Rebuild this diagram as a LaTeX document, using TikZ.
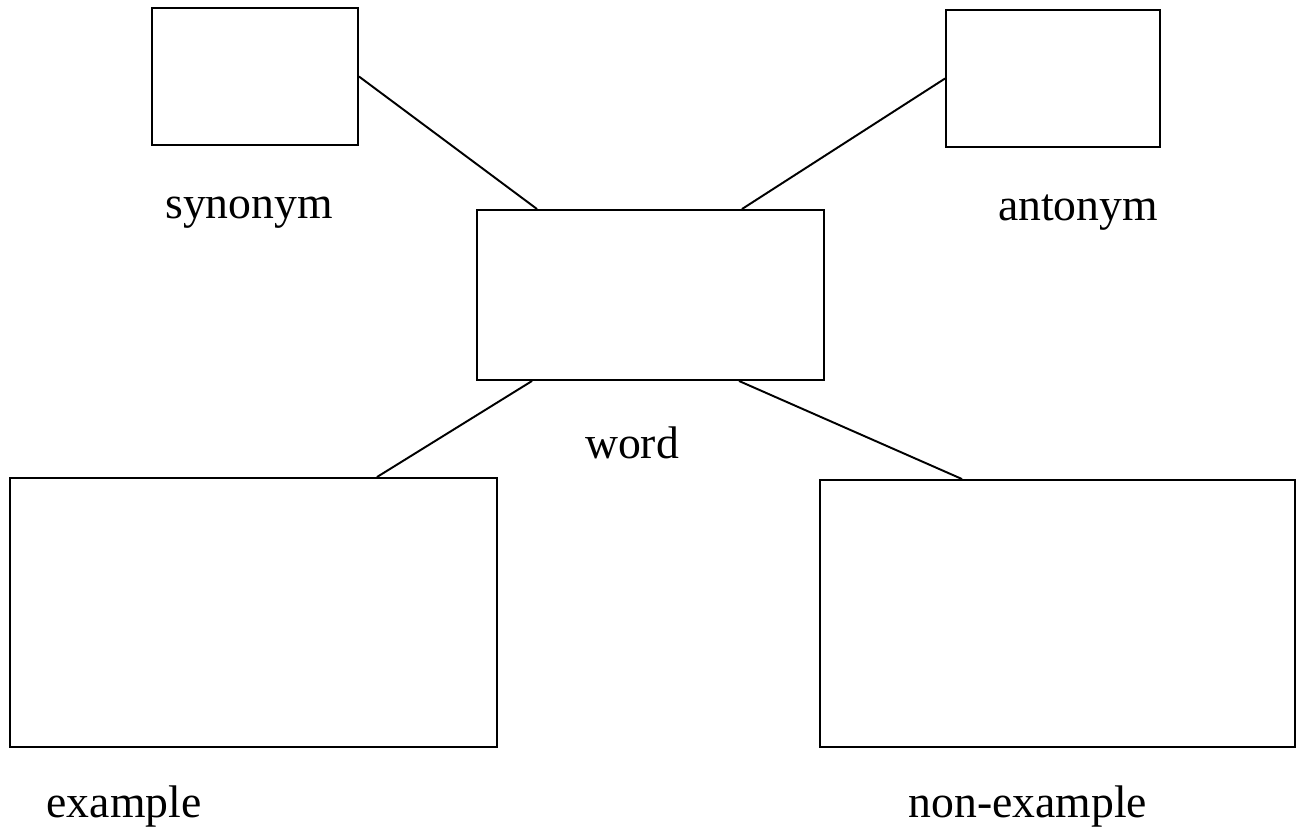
\documentclass[tikz,border=0pt]{standalone}
\usepackage{fontspec}
\setmainfont{Liberation Serif}
\begin{document}
\begin{tikzpicture}[x=0.02cm,y=-0.02cm,
  box/.style={draw=black,line width=1.1pt,fill=white,inner sep=0pt},
  lbl/.style={font=\fontsize{26}{30}\selectfont,inner sep=0pt},
  link/.style={draw=black,line width=1.1pt}]
\useasboundingbox[fill=white] (0,0) rectangle (1302,839);
\node[box,minimum width=206*0.02cm,minimum height=137*0.02cm] (syn) at (255,76.5) {};
\node[box,minimum width=214*0.02cm,minimum height=137*0.02cm] (ant) at (1053,78.5) {};
\node[box,minimum width=347*0.02cm,minimum height=170*0.02cm] (word) at (650.5,295) {};
\node[box,minimum width=487*0.02cm,minimum height=269*0.02cm] (ex) at (253.5,612.5) {};
\node[box,minimum width=475*0.02cm,minimum height=267*0.02cm] (nonex) at (1057.5,613.5) {};
\node[lbl] (tsyn) at (249,213) {synonym};
\node[lbl] (tant) at (1078,213) {antonym};
\node[lbl] (tword) at (632,443) {word};
\node[lbl] (tex) at (124,807) {example};
\node[lbl] (tnonex) at (1028,807) {non-example};
\draw[link] (syn.east) -- ([xshift=1.22cm]word.north west);
\draw[link] (ant.west) -- ([xshift=5.32cm]word.north west);
\draw[link] ([xshift=1.12cm]word.south west) -- ([xshift=7.36cm]ex.north west);
\draw[link] ([xshift=5.26cm]word.south west) -- ([xshift=2.86cm]nonex.north west);
\end{tikzpicture}
\end{document}
